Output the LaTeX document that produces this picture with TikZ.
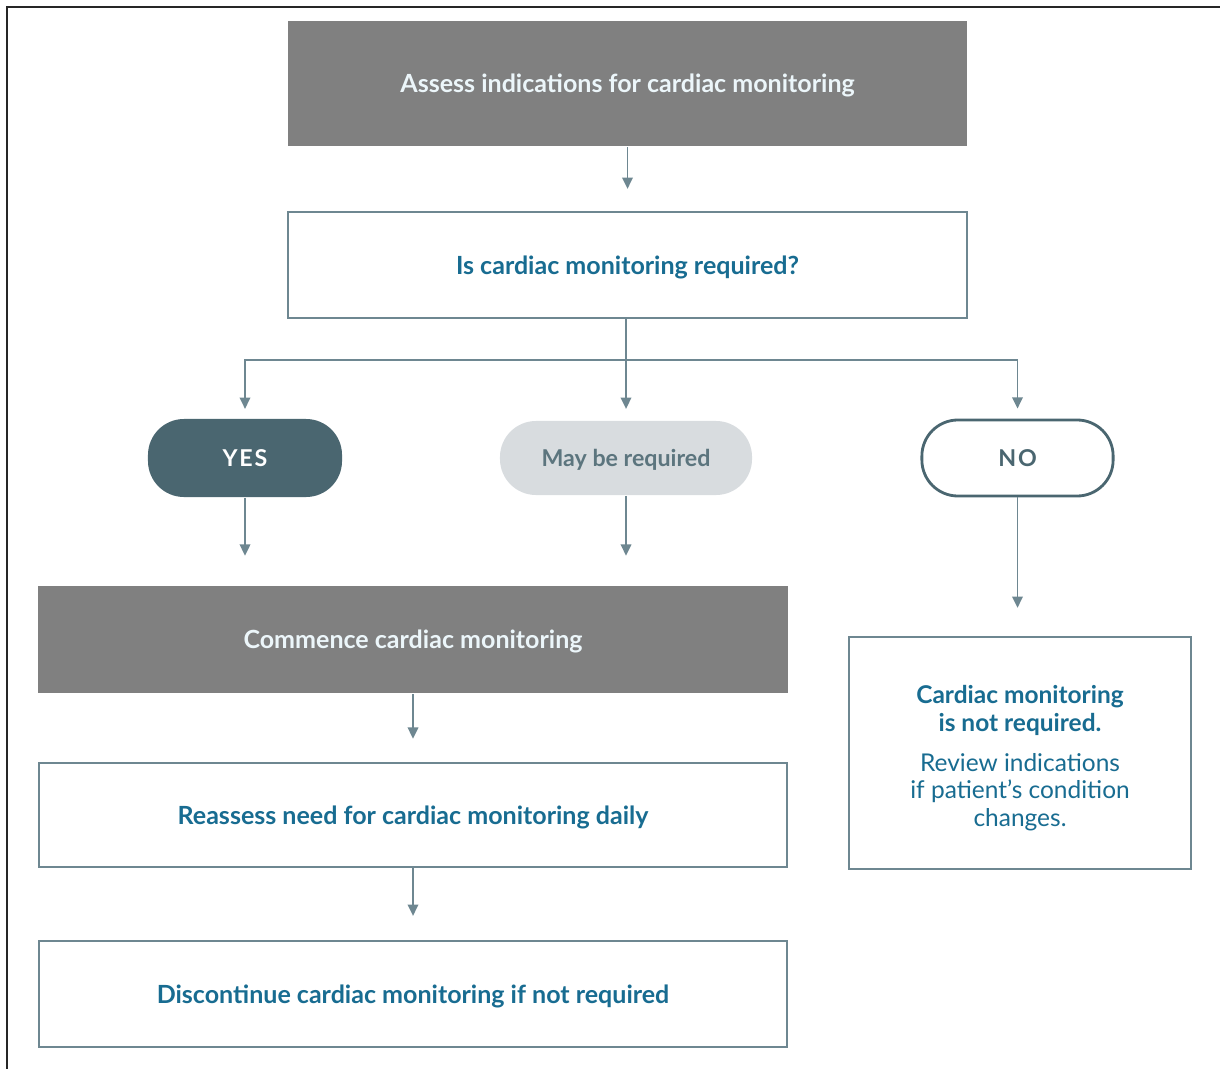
\documentclass[tikz,border=0pt]{standalone}
\usepackage{fontspec}
\setmainfont{Lato}
\usetikzlibrary{arrows.meta}

\begin{document}
\begin{tikzpicture}[x=0.025cm,y=-0.025cm,line width=1.3pt,
  box/.style={draw=edge,line width=1.6pt,fill=white,inner sep=0pt,
    text depth=0pt,text=ink,font=\fontsize{17.8}{21}\selectfont\bfseries},
  greybox/.style={box,draw=none,fill=shade,text=paper},
  pill/.style={rectangle,rounded corners=0.9cm,inner sep=0pt,text depth=0pt,
    font=\fontsize{16.5}{19}\selectfont\bfseries},
  link/.style={edge,-{Triangle[width=7.5pt,length=8pt]}}]

  \definecolor{shade}{RGB}{128,128,128} % grey fill
  \definecolor{edge}{RGB}{110,135,145} % box lines and arrows
  \definecolor{slate}{RGB}{74,102,112} % dark pill
  \definecolor{mist}{RGB}{216,220,223} % light pill
  \definecolor{ink}{RGB}{24,108,145} % blue text
  \definecolor{paper}{RGB}{236,246,250} % text on grey

  \useasboundingbox (0,0) rectangle (1220,1069);

  % Frame
  \draw[black!85,line width=0.9pt] (7,1069) -- (7,7) -- (1220,7);

  % Top of the chart
  \node[greybox,minimum width=16.975cm,minimum height=3.125cm] (assess)
      at (627.5,83.5) {Assess indications for cardiac monitoring};
  \node[box,minimum width=16.975cm,minimum height=2.65cm] (ask)
      at (627.5,265) {Is cardiac monitoring required?};

  % Answers
  \node[pill,fill=slate,text=white,minimum width=4.85cm,minimum height=1.95cm]
      (yes) at (245,458) {\addfontfeature{LetterSpace=8}YES};
  \node[pill,fill=mist,text=slate!90,minimum width=6.3cm,minimum height=1.85cm]
      (maybe) at (626,458) {May be required};
  \node[pill,draw=slate,line width=2pt,fill=white,text=slate,
      minimum width=4.78cm,minimum height=1.9cm]
      (no) at (1017.5,458) {\addfontfeature{LetterSpace=8}NO};

  % Monitoring steps
  \node[greybox,minimum width=18.75cm,minimum height=2.675cm] (start)
      at (413,639.5) {Commence cardiac monitoring};
  \node[box,minimum width=18.7cm,minimum height=2.6cm] (daily)
      at (413,815) {Reassess need for cardiac monitoring daily};
  \node[box,minimum width=18.7cm,minimum height=2.65cm] (stop)
      at (413,994) {Discontinue cardiac monitoring if not required};

  % Not required
  \node[box,minimum width=8.55cm,minimum height=5.8cm,align=center,
      font=\fontsize{17.4}{19.5}\selectfont] (notreq) at (1020,753)
      {\rule{0pt}{17pt}\bfseries Cardiac monitoring\\\bfseries is not required.\\[9pt]
       \mdseries Review indications\\\mdseries if patient's condition\\
       \mdseries changes.};

  % Arrows
  \coordinate (split) at (626,360);
  \draw[link,shorten >=0.55cm] (assess) -- (ask);
  \draw[link,shorten >=0.28cm] (ask.south -| maybe) -- (maybe);
  \draw[link,shorten >=0.23cm] (split) -| (yes);
  \draw[link,shorten >=0.25cm] (split) -| (no);
  \draw[link,shorten >=0.73cm] (yes) -- (yes.south |- start.north);
  \draw[link,shorten >=0.73cm] (maybe) -- (maybe.south |- start.north);
  \draw[link,shorten >=0.7cm] (no) -- (no.south |- notreq.north);
  \draw[link,shorten >=0.58cm] (start) -- (daily);
  \draw[link,shorten >=0.6cm] (daily) -- (stop);

\end{tikzpicture}
\end{document}
